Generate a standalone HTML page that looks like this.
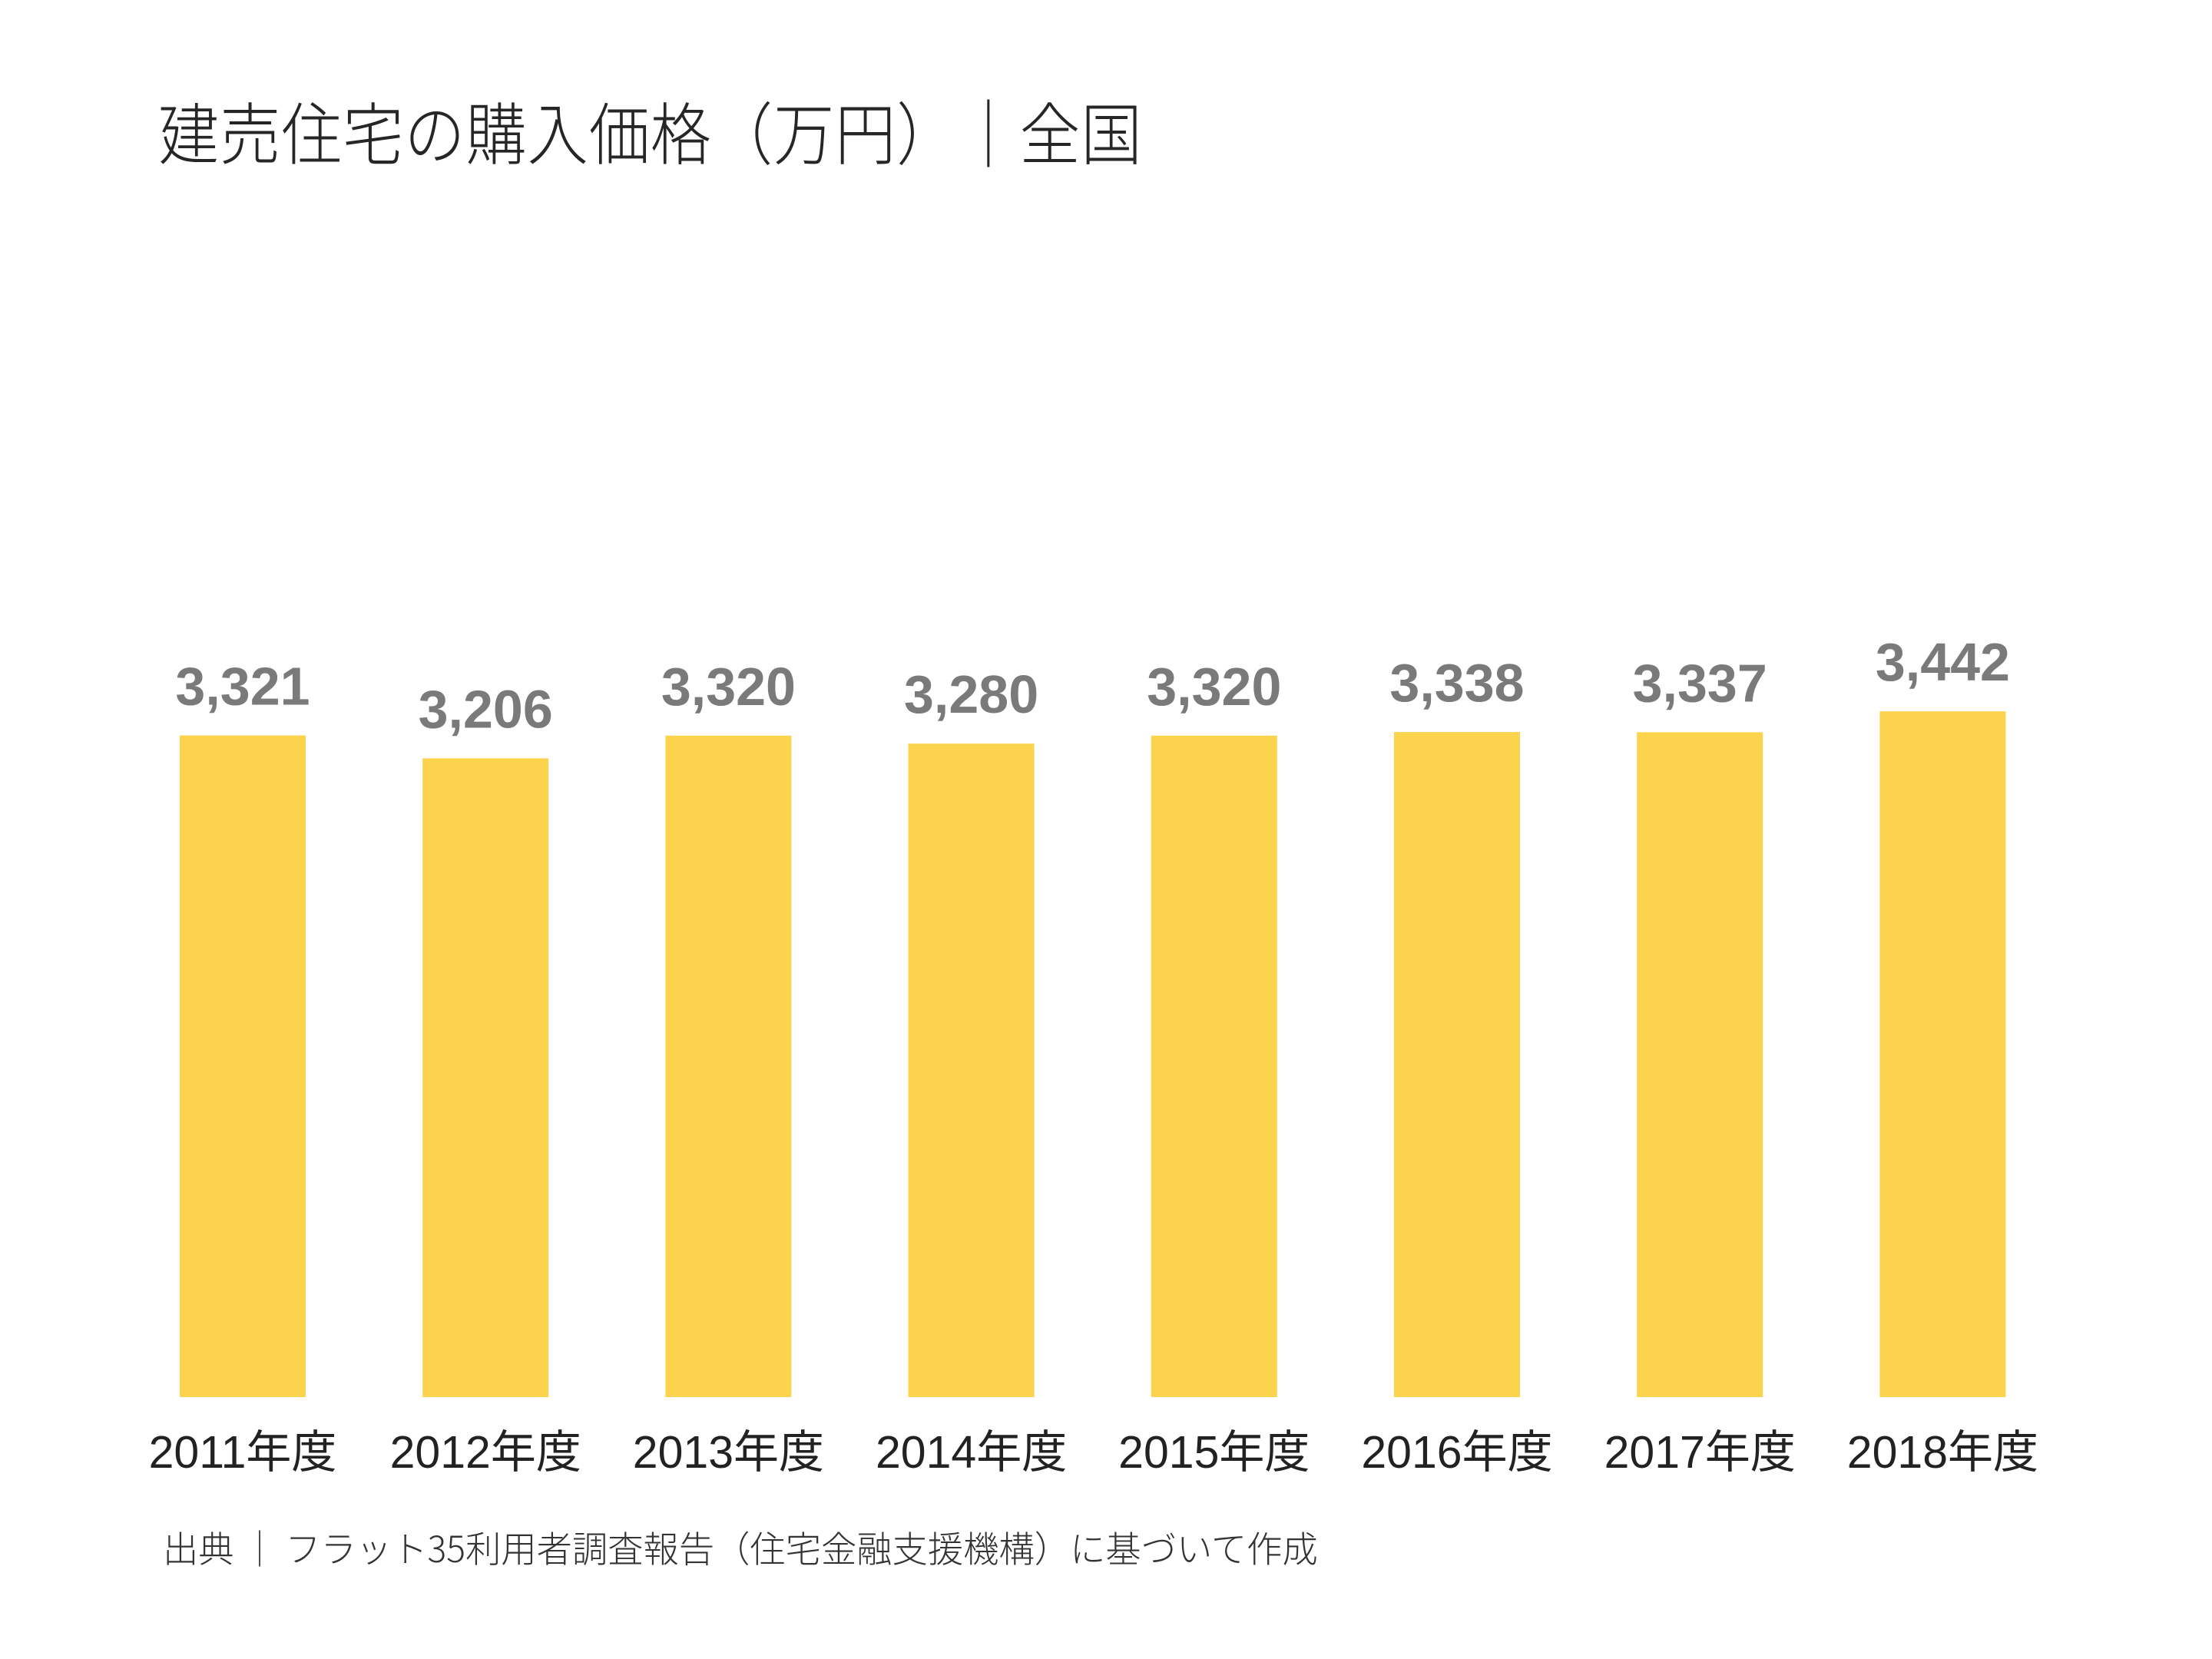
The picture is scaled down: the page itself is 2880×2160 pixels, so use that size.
<!DOCTYPE html>
<html><head><meta charset="utf-8">
<style>
html,body{margin:0;padding:0;background:#fff;}
body{width:2880px;height:2160px;overflow:hidden;position:relative;font-family:"Liberation Sans","Noto Sans CJK JP",sans-serif;}
#title{position:absolute;left:206px;top:106px;font-size:88px;color:#262626;white-space:nowrap;font-family:"Noto Sans CJK JP","Liberation Sans",sans-serif;font-weight:300;letter-spacing:1px;transform:scaleX(0.9);transform-origin:left top;}
#source{position:absolute;left:212px;top:1979px;font-size:47px;color:#333;white-space:nowrap;font-family:"Noto Sans CJK JP","Liberation Sans",sans-serif;font-weight:300;transform:scaleX(0.985);transform-origin:left top;}
svg{position:absolute;left:0;top:0;}
</style></head>
<body>
<div id="title">建売住宅の購入価格（万円）｜全国</div>
<svg id="chart" width="2880" height="2160"></svg>
<div id="source">出典 ｜ フラット35利用者調査報告（住宅金融支援機構）に基づいて作成</div>
<script>
const categories = ["2011年度","2012年度","2013年度","2014年度","2015年度","2016年度","2017年度","2018年度"];
const values = [3321,3206,3320,3280,3320,3338,3337,3442];
const valueLabels = ["3,321","3,206","3,320","3,280","3,320","3,338","3,337","3,442"];

const svg = document.getElementById('chart');
const NS = 'http://www.w3.org/2000/svg';
const baseY = 1819, pxPerUnit = 0.2594;
const firstCenter = 316, pitch = 316.2, barW = 164;
function xScale(i){ return firstCenter + i*pitch; }
function yScale(v){ return baseY - v*pxPerUnit; }

categories.forEach((c,i)=>{
  const cx = xScale(i), y = yScale(values[i]);
  const r = document.createElementNS(NS,'rect');
  r.setAttribute('x', cx-barW/2);
  r.setAttribute('y', y);
  r.setAttribute('width', barW);
  r.setAttribute('height', baseY-y);
  r.setAttribute('fill', '#fcd34c');
  
  
  svg.appendChild(r);

  const t = document.createElementNS(NS,'text');
  t.setAttribute('x', cx);
  t.setAttribute('y', y-40);
  t.setAttribute('text-anchor','middle');
  t.setAttribute('font-family','"Liberation Sans",sans-serif');
  t.setAttribute('font-weight','bold');
  t.setAttribute('font-size','70');
  t.setAttribute('fill','#7a7a7a');
  t.textContent = valueLabels[i];
  
  
  svg.appendChild(t);

  const xl = document.createElementNS(NS,'text');
  xl.setAttribute('x', cx);
  xl.setAttribute('y', 1911);
  xl.setAttribute('text-anchor','middle');
  xl.setAttribute('font-family','"Liberation Sans","Noto Sans CJK JP",sans-serif');
  xl.setAttribute('font-size','59');
  xl.setAttribute('fill','#222');
  xl.textContent = c;
  
  
  svg.appendChild(xl);
});
</script>
</body></html>
